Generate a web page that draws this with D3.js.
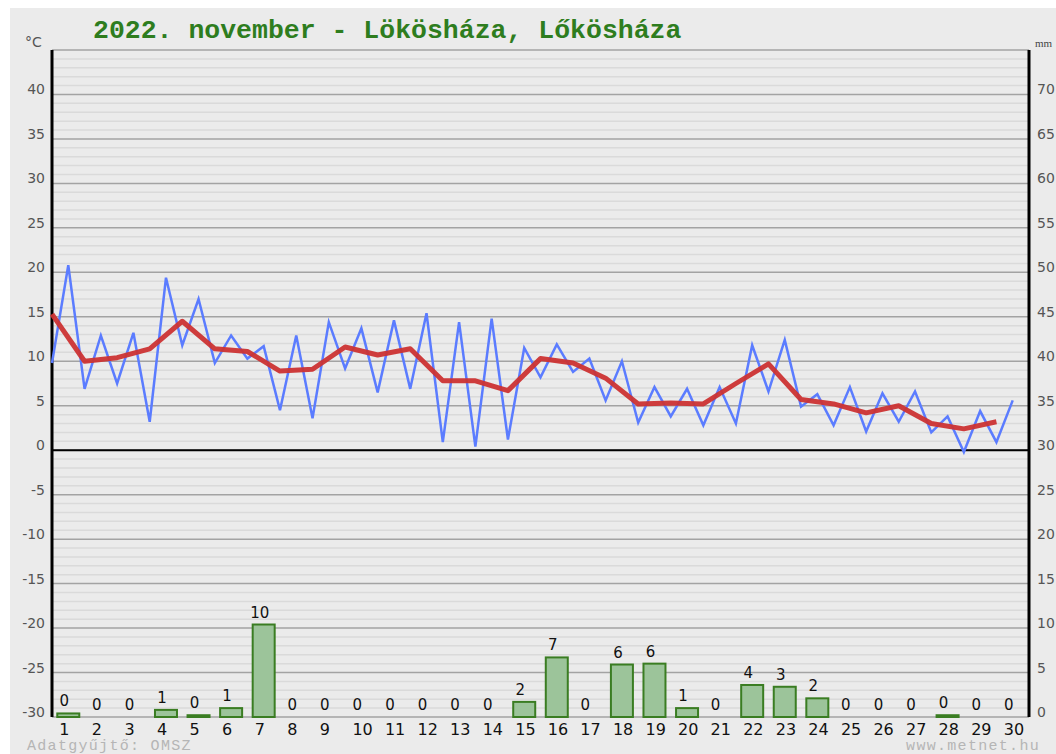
<!DOCTYPE html>
<html><head><meta charset="utf-8">
<script src="https://cdn.jsdelivr.net/npm/d3@7"></script>
<style>html,body{margin:0;padding:0;background:#fff;}svg{display:block;}</style>
</head><body>
<svg id="c" width="1056" height="754"></svg>
<script>
const titleText = "2022. november - Lökösháza, Lőkösháza";
const days = d3.range(1, 31);
// half-daily temperature readings (°C), 2 per day
const tempHalfDaily = [9.8,20.8, 6.9,12.9, 7.5,13.2, 3.2,19.4, 11.8,17.0, 9.8,12.9, 10.3,11.7, 4.5,12.9,
  3.6,14.4, 9.2,13.7, 6.5,14.6, 6.9,15.4, 0.9,14.4, 0.4,14.8, 1.2,11.5, 8.2,11.9, 8.8,10.3, 5.6,10.0,
  3.1,7.1, 3.8,6.9, 2.8,7.1, 3.0,11.8, 6.6,12.4, 4.9,6.3, 2.8,7.1, 2.1,6.4, 3.2,6.6, 2.0,3.8, -0.2,4.4, 0.9,5.6];
// daily mean temperature (°C)
const tempDailyMean = [15.3,10.0,10.4,11.4,14.5,11.4,11.1,8.9,9.1,11.6,10.7,11.4,7.8,7.8,6.7,10.3,9.8,8.1,5.2,5.3,
  5.2,7.5,9.7,5.7,5.2,4.2,5.0,3.0,2.4,3.2];
// daily precipitation (mm)
const precip = [0.4,0,0,0.8,0.2,1.0,10.4,0,0,0,0,0,0,0,1.7,6.7,0,5.9,6.0,1.0,0,3.6,3.4,2.1,0,0,0,0.2,0,0];
const tempTicks = [40,35,30,25,20,15,10,5,0,-5,-10,-15,-20,-25,-30];
const mmTicks = [70,65,60,55,50,45,40,35,30,25,20,15,10,5,0];

const svg = d3.select("#c");
const L = 52, R = 1029, T = 50, B = 717;
const x = d3.scaleLinear().domain([0.5, 30.5]).range([L, R]);
const y = d3.scaleLinear().domain([-30, 45]).range([B, T]);
const ymm = d3.scaleLinear().domain([0, 75]).range([B, T]);

svg.append("rect").attr("x", 10).attr("y", 8).attr("width", 1046).attr("height", 746).attr("fill", "#ebebeb");

// minor grid
svg.append("g").selectAll("line").data(d3.range(-30, 46).filter(v => v % 5 !== 0)).join("line")
  .attr("x1", L).attr("x2", R).attr("y1", d => y(d)).attr("y2", d => y(d))
  .attr("stroke", "#dadada").attr("stroke-width", 1.5);
// major grid
svg.append("g").selectAll("line").data(d3.range(-30, 46, 5)).join("line")
  .attr("x1", L).attr("x2", R).attr("y1", d => y(d)).attr("y2", d => y(d))
  .attr("stroke", "#a3a3a3").attr("stroke-width", 1.5);
// zero line
svg.append("line").attr("x1", L).attr("x2", R).attr("y1", y(0)).attr("y2", y(0)).attr("stroke", "#000").attr("stroke-width", 2);
// axes
svg.append("line").attr("x1", L).attr("x2", L).attr("y1", T).attr("y2", B).attr("stroke", "#000").attr("stroke-width", 3);
svg.append("line").attr("x1", R).attr("x2", R).attr("y1", T).attr("y2", B).attr("stroke", "#000").attr("stroke-width", 3);

// left tick labels
svg.append("g").selectAll("text").data(tempTicks).join("text")
  .attr("x", 45).attr("y", d => y(d)).attr("text-anchor", "end")
  .attr("font-family", "DejaVu Sans, sans-serif").attr("font-size", 14).attr("fill", "#555")
  .text(d => d);
// right tick labels
svg.append("g").selectAll("text").data(mmTicks).join("text")
  .attr("x", 1037).attr("y", d => ymm(d)).attr("text-anchor", "start")
  .attr("font-family", "DejaVu Sans, sans-serif").attr("font-size", 14).attr("fill", "#555")
  .text(d => d);
svg.append("text").attr("x", 25).attr("y", 47).attr("font-family", "DejaVu Sans, sans-serif")
  .attr("font-size", 14).attr("fill", "#555").text("°C");
svg.append("text").attr("x", 1035).attr("y", 47).attr("font-family", "Liberation Serif, serif")
  .attr("font-size", 11).attr("fill", "#444").text("mm");

// title
svg.append("text").attr("x", 93).attr("y", 38).attr("font-family", "Liberation Mono, monospace")
  .attr("font-size", 26.5).attr("font-weight", "bold").attr("fill", "#2e7d1e").text(titleText);

// bars
const bw = 22;
svg.append("g").selectAll("rect").data(precip).join("rect")
  .attr("x", (d, i) => x(days[i]) - bw / 2).attr("width", bw)
  .attr("y", d => ymm(d)).attr("height", d => B - ymm(d))
  .attr("fill", "#9cc49a").attr("stroke", "#3a7d22").attr("stroke-width", 2);
svg.append("g").selectAll("text").data(precip).join("text")
  .attr("x", (d, i) => x(days[i]) - 4).attr("y", d => ymm(d) - 7).attr("text-anchor", "middle")
  .attr("font-family", "DejaVu Sans, sans-serif").attr("font-size", 15).attr("fill", "#111")
  .text(d => Math.round(d));

// x tick labels
svg.append("g").selectAll("text").data(days).join("text")
  .attr("x", d => x(d) - 9).attr("y", 735).attr("text-anchor", "start")
  .attr("font-family", "DejaVu Sans, sans-serif").attr("font-size", 16).attr("fill", "#111")
  .text(d => d);

// blue line
const blue = d3.line().x((d, i) => x(0.5 + i / 2)).y(d => y(d));
svg.append("path").datum(tempHalfDaily).attr("d", blue).attr("fill", "none")
  .attr("stroke", "#5b7cff").attr("stroke-width", 2.5).attr("stroke-linejoin", "miter");
// red line
const red = d3.line().x((d, i) => x(0.5 + i)).y(d => y(d));
svg.append("path").datum(tempDailyMean).attr("d", red).attr("fill", "none")
  .attr("stroke", "#cc3333").attr("stroke-width", 5).attr("stroke-linejoin", "round").attr("opacity", 0.95);

// footer
svg.append("text").attr("x", 27).attr("y", 750).attr("font-family", "Liberation Mono, monospace")
  .attr("font-size", 15).attr("letter-spacing", 1.3).attr("fill", "#b5b5b5").text("Adatgyűjtő: OMSZ");
svg.append("text").attr("x", 1040).attr("y", 750).attr("text-anchor", "end").attr("font-family", "Liberation Mono, monospace")
  .attr("font-size", 15).attr("letter-spacing", 1.3).attr("fill", "#b5b5b5").text("www.metnet.hu");
</script>
</body></html>
